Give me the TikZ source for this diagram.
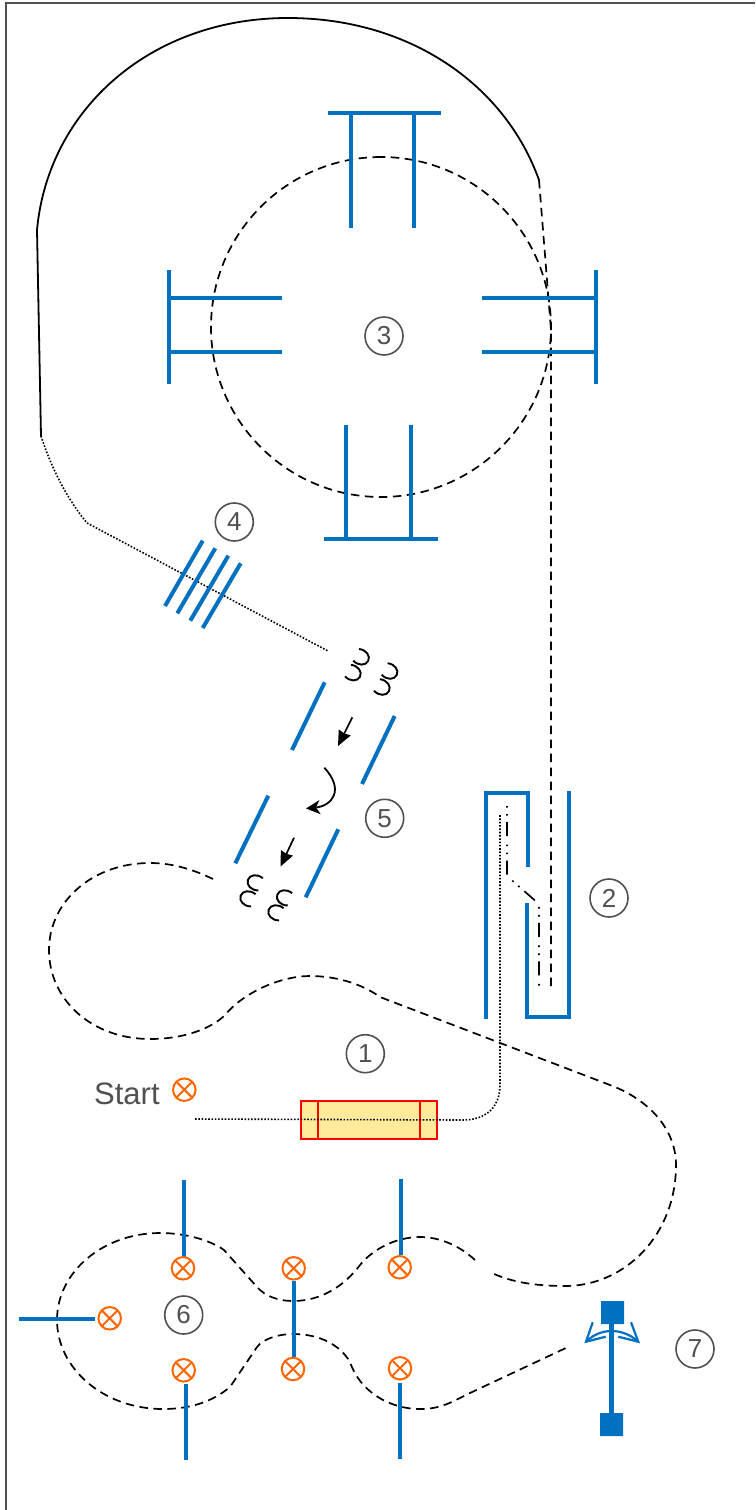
\documentclass[tikz,border=0pt]{standalone}
\usepackage{fontspec}
\setmainfont{Liberation Sans}
\usetikzlibrary{arrows.meta}
\definecolor{qblue}{HTML}{0070C0}
\definecolor{xorange}{HTML}{FF6600}
\definecolor{txtgray}{HTML}{505050}
\definecolor{boxfill}{HTML}{FFEB99}
\tikzset{
  blueline/.style={draw=qblue,line width=4pt},
  solidpath/.style={draw=black,line width=1.8pt},
  dashpath/.style={draw=black,line width=1.7pt,dash pattern=on 8.5pt off 5.5pt},
  dotpath/.style={draw=black,line width=1.6pt,dash pattern=on 1.6pt off 1.7pt},
  dashdot/.style={draw=black,line width=1.7pt,dash pattern=on 1.7pt off 6.3pt on 1.7pt off 6.3pt on 14pt off 8.5pt},
  numcircle/.style={circle,draw=txtgray,line width=1.6pt,minimum size=38pt,inner sep=0pt,text=txtgray,font=\fontsize{26}{26}\selectfont},
  xcircle/.style={circle,draw=xorange,line width=2pt,minimum size=22.5pt,inner sep=0pt,
    path picture={\draw[xorange,line width=2pt] (path picture bounding box.north west)--(path picture bounding box.south east)
      (path picture bounding box.north east)--(path picture bounding box.south west);}},
  coil/.pic={\draw[black,line width=1.9pt] (-6,-6.5) .. controls (1,-9) and (7.5,-5.5) .. (7.5,0) .. controls (7.5,5.5) and (1,9) .. (-6,6.5);},
  bluetip/.style={draw=qblue,line width=2.2pt},
}
\begin{document}
\begin{tikzpicture}[x=1pt,y=-1pt]
\useasboundingbox (0,0) rectangle (755,1510);
\fill[white] (0,0) rectangle (755,1510);
% frame
\draw[txtgray,line width=2pt] (6,1510) -- (6,3) -- (755,3);

% ring paths
\draw[solidpath] (41,436) -- (37,230) .. controls (48,110) and (150,18) .. (288,18) .. controls (410,18) and (505,85) .. (539,180);
\draw[dashpath] (539,180) -- (551,330) -- (551,990);
\draw[dashpath] (381,157) arc[start angle=90,delta angle=360,radius=170pt];
\draw[dotpath] (41,436) .. controls (52,470) and (68,500) .. (87,523) -- (328,651);

% quadrupoles
\draw[blueline] (328,113) -- (441,113) (351,113) -- (351,228) (414,113) -- (414,228);
\draw[blueline] (169,270) -- (169,384) (169,298) -- (282,298) (169,352) -- (282,352);
\draw[blueline] (596,270) -- (596,384) (596,298) -- (482,298) (596,352) -- (482,352);
\draw[blueline] (324,539) -- (438,539) (346,539) -- (346,425) (411,539) -- (411,425);

% item 4
\draw[blueline] (202.7,540.7) -- (165,606) (215.3,548.3) -- (177.3,613.3) (228.3,555.7) -- (190.3,620.7) (240.7,563.3) -- (202.7,628);

% item 5
\draw[blueline] (324.7,682.3) -- (292,750) (394.7,716) -- (362,784) (268.3,795.7) -- (235.3,863.3) (338.3,829.3) -- (305.7,897.3);
\draw[black,line width=1.7pt,-{Stealth[length=15pt,width=13pt,inset=1pt]}] (352.3,717.3) -- (338,746);
\draw[black,line width=1.7pt,-{Stealth[length=15pt,width=13pt,inset=1pt]}] (294,837.7) -- (280.5,866.5);
\draw[black,line width=1.8pt,-{Stealth[length=14pt,width=14pt,inset=4pt]}] (324.3,767.7) .. controls (345,790) and (332,806) .. (306,808.5);
\pic[rotate=-27] at (361.5,657.5) {coil};
\pic[rotate=-27] at (353.3,673.3) {coil};
\pic[rotate=-27] at (390,671.7) {coil};
\pic[rotate=-27] at (382.3,687.7) {coil};
\pic[rotate=160] at (255,882.3) {coil};
\pic[rotate=160] at (247.7,898.3) {coil};
\pic[rotate=160] at (284.3,897.3) {coil};
\pic[rotate=160] at (275.7,912.3) {coil};

% item 2
\draw[blueline] (486.3,1019) -- (486.3,793) -- (528,793) -- (528,866.7);
\draw[blueline] (527.3,903.3) -- (527.3,1017.3) -- (569.3,1017.3) (569.3,1019) -- (569.3,791);
\draw[dashdot] (507,806) -- (507,876) -- (539,904) -- (539,990);

% beam in
\draw[boxfill,fill=boxfill] (301,1101) rectangle (437.3,1139);
\draw[red,line width=1.8pt] (301,1101) rectangle (437.3,1139) (318.3,1101) -- (318.3,1139) (420.3,1101) -- (420.3,1139);
\draw[dotpath] (195,1119) -- (463,1120) .. controls (485,1120) and (500,1108) .. (500,1085) -- (500,814);

% dashed trajectory 1
\draw[dashpath] (213,879) .. controls (190,868) and (170,863) .. (150,863)
  .. controls (92,863) and (49,902) .. (49,950)
  .. controls (49,1000) and (92,1039) .. (150,1039)
  .. controls (185,1039) and (212,1028) .. (225,1015)
  .. controls (243,993) and (280,976) .. (310,976)
  .. controls (340,976) and (365,986) .. (380,997)
  -- (610,1085)
  .. controls (650,1100) and (676,1130) .. (676,1165)
  .. controls (676,1235) and (625,1286) .. (565,1286)
  .. controls (535,1286) and (510,1282) .. (490,1272);
% dashed trajectory 2
\draw[dashpath] (475,1260) .. controls (460,1246) and (440,1237) .. (420,1237)
  .. controls (395,1237) and (372,1250) .. (360,1265)
  .. controls (345,1285) and (322,1301) .. (293,1301)
  .. controls (278,1301) and (265,1296) .. (257,1287)
  -- (224,1250)
  .. controls (210,1240) and (185,1233) .. (160,1233)
  .. controls (103,1233) and (57,1272) .. (57,1320)
  .. controls (57,1368) and (103,1409) .. (163,1409)
  .. controls (190,1409) and (212,1402) .. (230,1387)
  -- (257,1347)
  .. controls (264,1338) and (280,1334) .. (293,1334)
  .. controls (320,1334) and (340,1345) .. (350,1362)
  .. controls (360,1392) and (390,1409) .. (420,1409)
  .. controls (440,1409) and (450,1403) .. (470,1393)
  -- (568,1347);

% item 6 stems
\draw[blueline] (184,1180) -- (184,1257) (19,1319) -- (95,1319) (186,1384) -- (186,1460)
  (293.7,1281) -- (293.7,1357) (400.7,1179) -- (400.7,1255) (400.3,1383) -- (400.3,1459);

% crosses
\node[xcircle] (xstart) at (184.3,1089.7) {};
\node[xcircle] (xa) at (183,1268.3) {};
\node[xcircle] (xb) at (109.7,1318.3) {};
\node[xcircle] (xc) at (183.7,1370.3) {};
\node[xcircle] (xd) at (293.7,1268.3) {};
\node[xcircle] (xe) at (399.7,1267.3) {};
\node[xcircle] (xf) at (293,1369) {};
\node[xcircle] (xg) at (400,1368.3) {};

% item 7
\fill[qblue] (601,1301) rectangle (624,1324) (600,1413) rectangle (623,1436);
\draw[qblue,line width=5pt] (611.4,1324) -- (611.4,1413);
\draw[bluetip] (592.7,1322.3) -- (586,1341.7) -- (605.7,1336.7);
\draw[bluetip] (631,1322.3) -- (638.3,1341.7) -- (618.3,1336.7);
\draw[bluetip] (586,1341.7) .. controls (594,1334) and (603,1331) .. (611.7,1331) .. controls (620,1331) and (630,1334) .. (638.3,1341.7);

% labels
\node[anchor=base west,inner sep=0pt,text=txtgray,font=\fontsize{31}{31}\selectfont] (start) at (94,1104) {Start};
\node[numcircle] (n1) at (365.3,1053.7) {1};
\node[numcircle] (n2) at (609,898) {2};
\node[numcircle] (n3) at (384,336) {3};
\node[numcircle] (n4) at (234.3,522) {4};
\node[numcircle] (n5) at (384.7,818.3) {5};
\node[numcircle] (n6) at (183.7,1315) {6};
\node[numcircle] (n7) at (695,1349) {7};
\end{tikzpicture}
\end{document}
